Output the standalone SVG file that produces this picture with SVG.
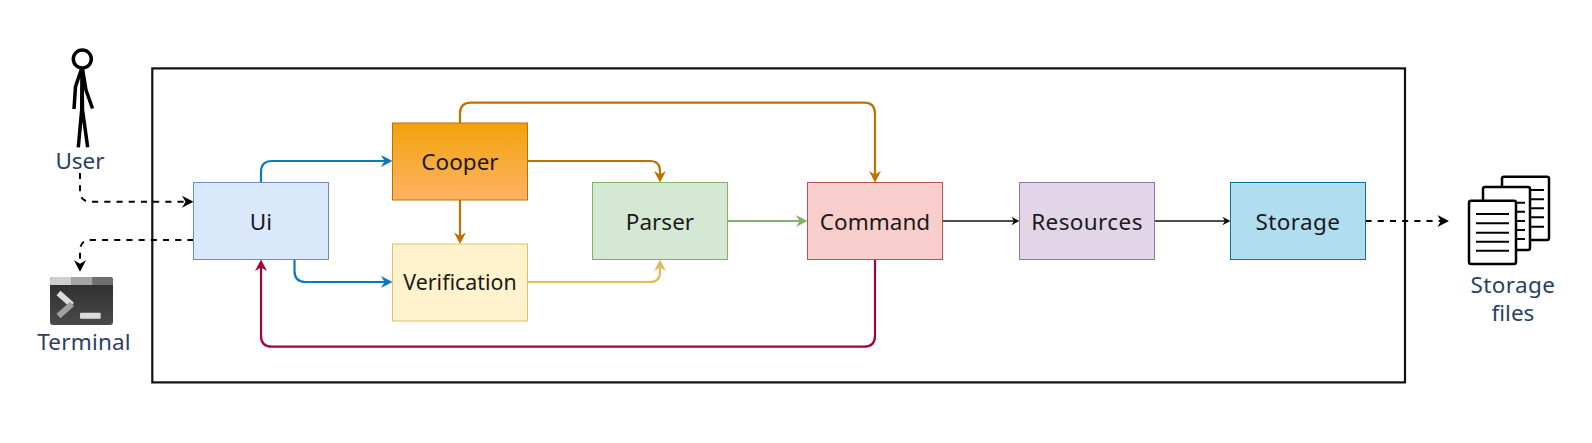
<svg xmlns="http://www.w3.org/2000/svg" width="1592" height="443" viewBox="0 0 1592 443">
<style>
text{font-family:"Noto Sans","Open Sans",sans-serif;text-anchor:middle}
.n{font-size:22.5px;fill:#1a1a1a}
.l{font-size:22.5px;fill:#2a3f62}
.c{fill:none;stroke-width:2.200}
.thin{fill:none;stroke-width:1.300;stroke:#111}
.d{fill:none;stroke:#000;stroke-width:2;stroke-dasharray:6.1 6.1}
.doc{fill:#fff;stroke:#000;stroke-width:2.500}
</style>
<defs>
<linearGradient id="g" x1="0" y1="0" x2="0" y2="1"><stop offset="0" stop-color="#f0a30a"/><stop offset="1" stop-color="#ffb366"/></linearGradient>
<linearGradient id="tg" x1="0" y1="0" x2="0" y2="1"><stop offset="0" stop-color="#2c2c2c"/><stop offset="1" stop-color="#4a4a4a"/></linearGradient>
<path id="ah" d="M0 0L-11.500 -6L-8 0L-11.500 6Z"/>
</defs>
<rect id="frame" x="152.300" y="68.400" width="1252.700" height="314" fill="#fff" stroke="#111" stroke-width="2.200"/>
<g id="connectors">
<path class="c" stroke="#0f78b8" d="M261 182.500V172Q261 161 272 161H386"/>
<use href="#ah" transform="translate(392.500 161)" fill="#0f78b8"/>
<path class="c" stroke="#0f78b8" d="M294.500 259.500V271Q294.500 282 305.500 282H386"/>
<use href="#ah" transform="translate(392.500 282)" fill="#0f78b8"/>
<path class="c" stroke="#bf7200" d="M460 123V113.700Q460 102.700 471 102.700H864Q875 102.700 875 113.700V176"/>
<use href="#ah" transform="translate(875 182.500) rotate(90)" fill="#bf7200"/>
<path class="c" stroke="#bf7200" d="M527.500 161H650Q660 161 660 171V176"/>
<use href="#ah" transform="translate(660 182.500) rotate(90)" fill="#bf7200"/>
<path class="c" stroke="#bf7200" d="M460 200V237"/>
<use href="#ah" transform="translate(460 244) rotate(90)" fill="#bf7200"/>
<path class="c" stroke="#e0bd5c" d="M527.500 282H650Q660 282 660 272V266"/>
<use href="#ah" transform="translate(660 259.500) rotate(-90)" fill="#e0bd5c"/>
<path class="c" stroke="#82b366" d="M727.500 221H801"/>
<use href="#ah" transform="translate(807.500 221)" fill="#82b366"/>
<path class="c" stroke="#a50040" d="M875 259.500V335.700Q875 346.700 864 346.700H272Q261 346.700 261 335.700V266"/>
<use href="#ah" transform="translate(261 259.500) rotate(-90)" fill="#a50040"/>
<path class="thin" d="M942.500 221H1014"/>
<use href="#ah" transform="translate(1019.500 221) scale(.7)" fill="#111"/>
<path class="thin" d="M1154.500 221H1225"/>
<use href="#ah" transform="translate(1230.500 221) scale(.7)" fill="#111"/>
<path class="d" d="M80 173V191Q80 201.700 91 201.700H187"/>
<use href="#ah" transform="translate(193.500 201.700)"/>
<path class="d" d="M193.500 240H91Q80 240 80 251V265"/>
<use href="#ah" transform="translate(80 271.700) rotate(90)"/>
<path class="d" d="M1365.500 221H1443"/>
<use href="#ah" transform="translate(1449 221)"/>
</g>
<g id="user">
<circle cx="82.300" cy="59" r="9" fill="#fff" stroke="#000" stroke-width="3.500"/>
<path d="M81.500 69L75.500 86.700L74 109M82.500 69L86 90L92.500 108.500M82 69L81.700 110L78.300 147.300M82 69L82.500 110L87.700 147.300" fill="none" stroke="#000" stroke-width="3.500"/>
<text class="l" x="80" y="169">User</text>
</g>
<g id="terminal">
<rect x="50" y="277" width="63" height="48" rx="3" fill="url(#tg)"/>
<path d="M50 285V280Q50 277 53 277H71.700V285Z" fill="#cfcfcf"/>
<rect x="71.700" y="277" width="21" height="8" fill="#a4a4a4"/>
<path d="M92.700 277H110Q113 277 113 280V285H92.700Z" fill="#6e6e6e"/>
<path d="M58.500 293L72 305" stroke="#dcdcdc" stroke-width="6" fill="none"/>
<path d="M72 304L58.500 316" stroke="#a0a0a0" stroke-width="6" fill="none"/>
<rect x="80" y="312.700" width="20.700" height="6" rx="1" fill="#dcdcdc"/>
<text class="l" x="84" y="350" style="letter-spacing:.2px">Terminal</text>
</g>
<g id="ui"><rect x="193.500" y="182.500" width="135" height="77" fill="#dae8fc" stroke="#6c8ebf"/><text class="n" x="261" y="229.500">Ui</text></g>
<g id="cooper"><rect x="392.500" y="123" width="135" height="77" fill="url(#g)" stroke="#bd7000"/><text class="n" x="460" y="169.500">Cooper</text></g>
<g id="verification"><rect x="392.500" y="244" width="135" height="77" fill="#fff2cc" stroke="#dcbf68"/><text class="n" x="460" y="290" style="font-size:21.400px">Verification</text></g>
<g id="parser"><rect x="592.500" y="182.500" width="135" height="77" fill="#d5e8d4" stroke="#82b366"/><text class="n" x="660" y="229.500">Parser</text></g>
<g id="command"><rect x="807.500" y="182.500" width="135" height="77" fill="#f8cecc" stroke="#b85450"/><text class="n" x="875" y="229.500">Command</text></g>
<g id="resources"><rect x="1019.500" y="182.500" width="135" height="77" fill="#e1d5e7" stroke="#9673a6"/><text class="n" x="1087" y="229.500" style="letter-spacing:.4px">Resources</text></g>
<g id="storage"><rect x="1230.500" y="182.500" width="135" height="77" fill="#b1ddf0" stroke="#10739e"/><text class="n" x="1298" y="229.500" style="letter-spacing:.4px">Storage</text></g>
<g id="storage-files">
<rect x="1502" y="176.700" width="47" height="63.300" rx="2" class="doc"/>
<path d="M1530.700 190H1544M1530.700 199.300H1544M1530.700 208.300H1544M1530.700 217.300H1544M1530.700 226.700H1544" stroke="#000" stroke-width="2" fill="none"/>
<rect x="1483" y="187" width="47" height="63" rx="2" class="doc"/>
<path d="M1516.700 202.700H1525M1516.700 211.700H1525M1516.700 221H1525M1516.700 230H1525M1516.700 239H1525" stroke="#000" stroke-width="2" fill="none"/>
<rect x="1469" y="200.700" width="47" height="63.300" rx="2" class="doc"/>
<path d="M1476 214H1509M1476 223.300H1509M1476 232.700H1509M1476 241.700H1509M1476 250.700H1509" stroke="#000" stroke-width="2" fill="none"/>
<text class="l" x="1513" y="293" style="letter-spacing:.4px">Storage</text>
<text class="l" x="1513" y="321">files</text>
</g>
</svg>
